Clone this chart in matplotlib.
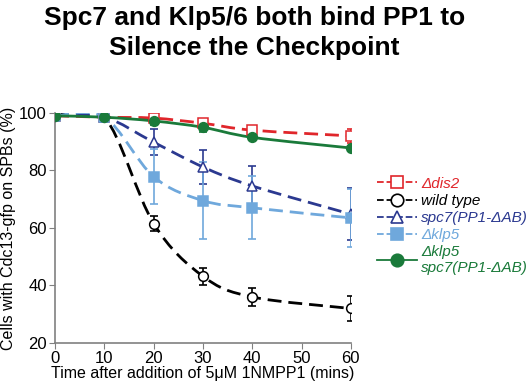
import matplotlib as mpl
import matplotlib.pyplot as plt
import numpy as np
from matplotlib.path import Path
from matplotlib.patches import PathPatch
from matplotlib.lines import Line2D

mpl.rcParams['font.family'] = ['Liberation Sans', 'DejaVu Sans']

# data
times = [0, 10, 20, 30, 40, 60]
dis2 = [99, 98.5, 98.2, 96.4, 94.0, 92.0]
dis2_err = [1, 1, 1.2, 1.5, 1.5, 2.5]
wt = [99, 98.5, 61.5, 43.2, 36.0, 32.0]
wt_err = [0.8, 0.8, 2.5, 3, 3, 4.5]
spc7 = [99, 98.5, 89.8, 81.2, 74.6, 64.8]
spc7_err = [0.8, 0.8, 4.5, 6, 7, 9]
klp5 = [99, 98.5, 77.8, 69.5, 67.0, 63.5]
klp5_err = [0.8, 0.8, 9.5, 13.5, 11, 10]
double = [99, 98.5, 97.2, 95.0, 91.5, 87.8]
double_err = [0.8, 0.8, 1.5, 1.5, 0.8, 0.8]

labels = ['\u0394dis2', 'wild type', 'spc7(PP1-\u0394AB)', '\u0394klp5',
          '\u0394klp5\nspc7(PP1-\u0394AB)']

series = [
    (dis2, dis2_err, '#e0262b', 's', 'white', (0, (5, 2.5)), '#e0262b'),
    (wt, wt_err, '#000000', 'o', 'white', (0, (5, 2.5)), '#000000'),
    (spc7, spc7_err, '#2b3990', '^', 'white', (0, (5, 2.5)), '#2b3990'),
    (klp5, klp5_err, '#6fa8dc', 's', '#6fa8dc', (0, (5, 2.5)), '#6fa8dc'),
    (double, double_err, '#1a7a3a', 'o', '#1a7a3a', '-', '#1a7a3a'),
]


def smooth_path(x, y):
    # Catmull-Rom spline as cubic Bezier segments (Excel style smoothed line)
    pts = np.column_stack([x, y]).astype(float)
    n = len(pts)
    verts = [pts[0]]
    codes = [Path.MOVETO]
    for i in range(n - 1):
        p0 = pts[i - 1] if i > 0 else pts[i]
        p1 = pts[i]
        p2 = pts[i + 1]
        p3 = pts[i + 2] if i + 2 < n else pts[i + 1]
        c1 = p1 + (p2 - p0) / 6
        c2 = p2 - (p3 - p1) / 6
        verts += [c1, c2, p2]
        codes += [Path.CURVE4] * 3
    return Path(verts, codes)


fig = plt.figure(figsize=(5.3, 3.88), dpi=100)
ax = fig.add_axes([0.104, 0.116, 0.558, 0.593])

handles = []
for vals, err, col, mk, mfc, ls, ecol in series:
    ax.add_patch(PathPatch(smooth_path(times, vals), fill=False, edgecolor=col,
                           lw=2.0, linestyle=ls, zorder=2))
    ax.errorbar(times, vals, yerr=err, fmt='none', ecolor=ecol, elinewidth=1.2,
                capsize=3, capthick=1.2, zorder=3)
    ax.plot(times, vals, linestyle='none', marker=mk, markersize=7,
            markerfacecolor=mfc, markeredgecolor=col, markeredgewidth=1.1, zorder=4)
    handles.append(Line2D([], [], color=col, lw=1.3, linestyle='--' if ls != '-' else '-',
                          marker=mk, markersize=9, markerfacecolor=mfc,
                          markeredgecolor=col, markeredgewidth=1.2))

ax.set_xlim(0, 60)
ax.set_ylim(20, 100)
ax.set_xticks(range(0, 61, 10))
ax.set_yticks(range(20, 101, 20))
ax.spines['top'].set_visible(False)
ax.spines['right'].set_visible(False)
for s in ['left', 'bottom']:
    ax.spines[s].set_color('#808080')
    ax.spines[s].set_linewidth(1.2)
ax.tick_params(direction='out', length=4, color='#808080', labelsize=12, pad=2)

ax.set_xlabel('Time after addition of 5\u03bcM 1NMPP1 (mins)', fontsize=11.5, labelpad=0)
ax.set_ylabel('Cells with Cdc13-gfp on SPBs (%)', fontsize=11.5, labelpad=2)

leg = fig.legend(handles, labels, loc='upper left', bbox_to_anchor=(0.70, 0.56),
                 frameon=False, fontsize=11, handlelength=2.6, handletextpad=0.3,
                 labelspacing=0.2, borderaxespad=0)
for t, s in zip(leg.get_texts(), series):
    t.set_color(s[2])
    t.set_fontstyle('italic')

fig.suptitle('Spc7 and Klp5/6 both bind PP1 to\nSilence the Checkpoint',
             fontsize=19, fontweight='bold', x=0.48, y=0.985, va='top', linespacing=1.3)

fig.savefig('out.png', dpi=100)
